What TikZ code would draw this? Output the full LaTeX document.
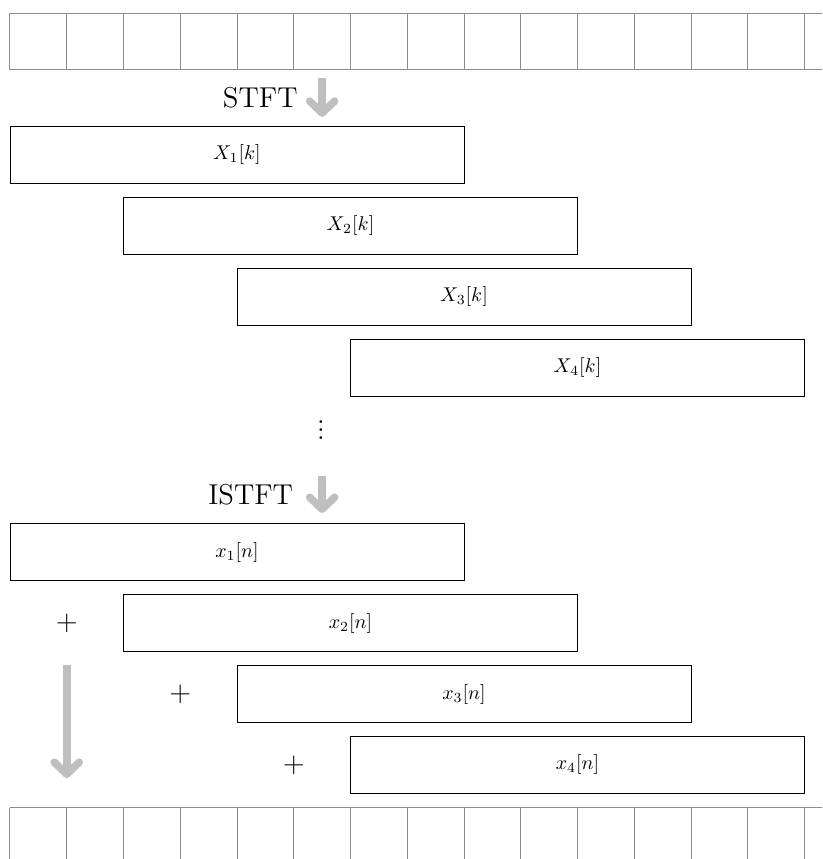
\documentclass[tikz,border=0pt]{standalone}
\usetikzlibrary{arrows.meta}
\begin{document}
\begin{tikzpicture}[
        cellline/.style={draw=gray!90, line width=0.5pt},
        framebox/.style={rectangle, draw, minimum width=8cm, minimum height=1cm, inner sep=0pt},
        graydown/.style={draw=gray!50, line width=3.8pt, -{Straight Barb[round, length=6pt, width=12.5pt]}},
        sumsign/.style={font=\Large}
    ]
        \useasboundingbox (-0.176, 0.229) rectangle (14.31, -14.907);
        \clip (-0.176, 0.229) rectangle (14.31, -14.907);

        % Signal cells
        \draw[cellline] (0, 0) grid (14.5, -1);
        \draw[cellline] (0, -14) grid (14.5, -15.5);

        % Nodes
        % X1 & X2 & X3 & X4
        % x1 & x2 & x3 & x4

        \node[font=\Large] at (4.41, -1.5)  (stft)    {STFT};
        \coordinate (stfttop) at (5.5, -1.15);
        \coordinate (stftend) at (5.5, -1.83);

        \node[framebox] at (4, -2.5)   (X1)    {$X_1[k]$};
        \node[framebox] at (6, -3.75)  (X2)    {$X_2[k]$};
        \node[framebox] at (8, -5)     (X3)    {$X_3[k]$};
        \node[framebox] at (10, -6.25) (X4)    {$X_4[k]$};

        \node[anchor=south, inner sep=0pt, font=\LARGE] at (5.48, -7.52)  (dots)    {$\vdots$};

        \node[font=\Large] at (4.24, -8.48)  (istft)    {ISTFT};
        \coordinate (istfttop) at (5.5, -8.15);
        \coordinate (istftend) at (5.5, -8.81);

        \node[framebox] at (4, -9.5)    (x1)    {$x_1[n]$};
        \node[framebox] at (6, -10.75)  (x2)    {$x_2[n]$};
        \node[framebox] at (8, -12)     (x3)    {$x_3[n]$};
        \node[framebox] at (10, -13.25) (x4)    {$x_4[n]$};

        \node[sumsign] at (1, -10.75)  (plus2)    {$+$};
        \node[sumsign] at (3, -12)     (plus3)    {$+$};
        \node[sumsign] at (5, -13.25)  (plus4)    {$+$};

        \coordinate (sumtop) at (1, -11.49);
        \coordinate (sumend) at (1, -13.48);

        \draw[graydown] (stfttop) -- (stftend);
        \draw[graydown] (istfttop) -- (istftend);
        \draw[graydown] (sumtop) -- (sumend);

    \end{tikzpicture}
\end{document}
